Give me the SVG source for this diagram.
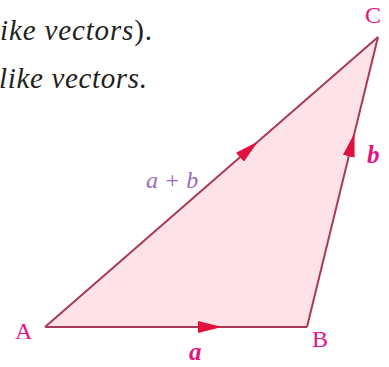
<svg xmlns="http://www.w3.org/2000/svg" width="389" height="367" viewBox="0 0 389 367">
<style>
text{font-family:"Liberation Serif","DejaVu Serif",serif}
.body{font-size:29px;fill:#231f20}
.it{font-style:italic}
.lbl{font-size:24px;fill:#e6127f}
.vec{font-size:25px;font-style:italic;font-weight:bold;fill:#e6127f}
.sum{font-size:24px;font-style:italic;fill:#9a6ac4}
.edge{stroke:#a83a55;stroke-width:2;fill:none}
</style>
<defs>
<marker id="ah" viewBox="0 0 24 12" refX="24" refY="6" markerWidth="24" markerHeight="12" markerUnits="userSpaceOnUse" orient="auto">
<path d="M0,0 L24,6 L0,12 Z" fill="#e0103f"/>
</marker>
</defs>
<text class="body" x="0" y="40" textLength="152" lengthAdjust="spacing"><tspan class="it">ike vectors</tspan>).</text>
<text class="body" x="-1" y="88" textLength="148" lengthAdjust="spacing"><tspan class="it">like vectors.</tspan></text>
<polygon id="triangle" points="45,327 307,327 378,37" fill="#fde3e8"/>
<g id="connectors">
<path class="edge" d="M45,327 L307,327"/>
<path class="edge" d="M307,327 L378,37"/>
<path class="edge" d="M45,327 L378,37"/>
<path d="M45,327 L222,327" fill="none" stroke="none" marker-end="url(#ah)"/>
<path d="M307,327 L354.5,133" fill="none" stroke="none" marker-end="url(#ah)"/>
<path d="M45,327 L258,141.5" fill="none" stroke="none" marker-end="url(#ah)"/>
</g>
<g id="node-A"><text class="lbl" x="15" y="339">A</text></g>
<g id="node-B"><text class="lbl" x="312" y="347">B</text></g>
<g id="node-C"><text class="lbl" x="365" y="23">C</text></g>
<g id="label-a"><text class="vec" x="189" y="360">a</text></g>
<g id="label-b"><text class="vec" x="367" y="163">b</text></g>
<g id="label-ab"><text class="sum" x="146" y="188">a + b</text></g>
</svg>
